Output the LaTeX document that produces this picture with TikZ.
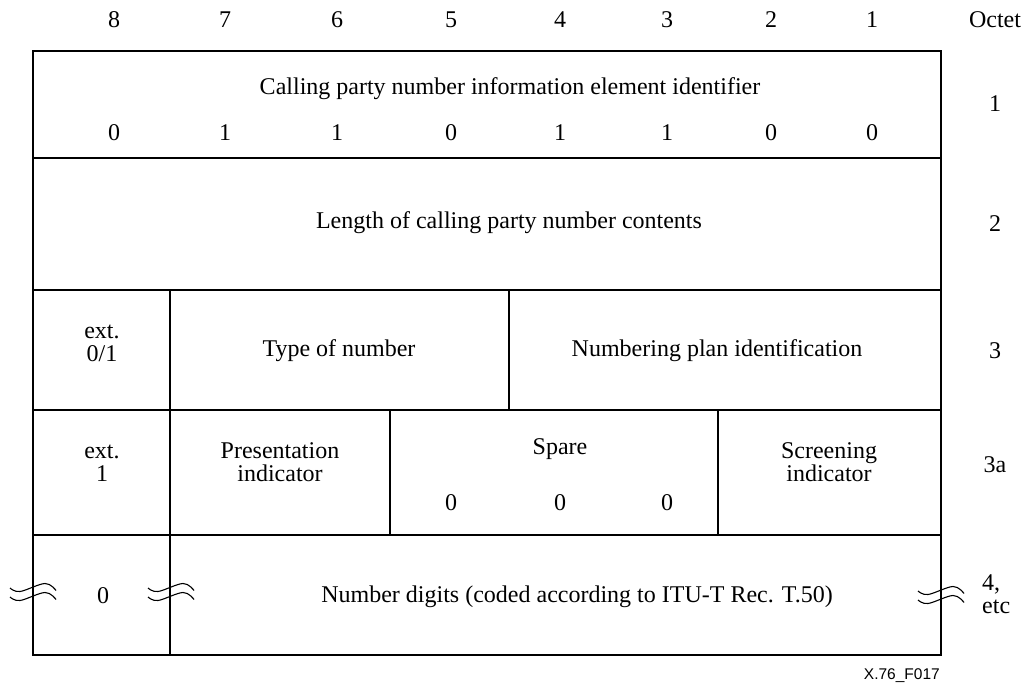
\documentclass[tikz,border=0pt]{standalone}
\usepackage{fontspec}
\setmainfont{Liberation Serif}
\setsansfont{Liberation Sans}
\begin{document}
\begin{tikzpicture}[x=1pt,y=-1pt,
  tbl/.style={line width=1.2pt},
  txt/.style={font=\fontsize{24}{27}\selectfont, inner sep=0pt, anchor=base},
  txtw/.style={txt, anchor=base west},
  foot/.style={font=\sffamily\fontsize{15.5}{17}\selectfont, inner sep=0pt, anchor=base east},
  breakmark/.pic={
    \draw[line width=1.1pt] plot[smooth, tension=0.6] coordinates {(-23,1) (-13,4.5) (12,-3.5) (23,3.5)};
    \draw[line width=1.1pt] plot[smooth, tension=0.6] coordinates {(-23,10) (-13,13.5) (12,5.5) (23,12.5)};
  }]
\useasboundingbox (0,0) rectangle (1024,684);
\fill[white] (0,0) rectangle (1024,684);
% table
\draw[tbl] (33,51) rectangle (941,655);
\draw[tbl] (33,158) -- (941,158);
\draw[tbl] (33,290) -- (941,290);
\draw[tbl] (33,410) -- (941,410);
\draw[tbl] (33,535) -- (941,535);
\draw[tbl] (170,290) -- (170,655);
\draw[tbl] (509,290) -- (509,410);
\draw[tbl] (390,410) -- (390,535);
\draw[tbl] (718,410) -- (718,535);
% header
\foreach \x/\b [count=\i] in {114/8,225/7,337/6,451/5,560/4,667/3,771/2,872/1}{
  \node[txt] (h\i) at (\x,28) {\b};
}
\node[txt] (octet) at (995,28) {Octet};
% row 1
\node[txt] (r1t) at (510,95) {Calling party number information element identifier};
\foreach \x/\b [count=\i] in {114/0,225/1,337/1,451/0,560/1,667/1,771/0,872/0}{
  \node[txt] (b\i) at (\x,141) {\b};
}
\node[txt] (o1) at (995,112) {1};
% row 2
\node[txt] (r2t) at (509,229) {Length of calling party number contents};
\node[txt] (o2) at (995,232) {2};
% row 3
\node[txt] (ext3a) at (102,338) {ext.};
\node[txt] (ext3b) at (102,361) {0/1};
\node[txt] (ton) at (339,356) {Type of number};
\node[txt] (npi) at (717,356) {Numbering plan identification};
\node[txt] (o3) at (995,358) {3};
% row 3a
\node[txt] (ext4a) at (102,458) {ext.};
\node[txt] (ext4b) at (102,481) {1};
\node[txt] (pia) at (280,458) {Presentation};
\node[txt] (pib) at (280,481) {indicator};
\node[txt] (spare) at (560,454) {Spare};
\node[txt] (s1) at (451,510) {0};
\node[txt] (s2) at (560,510) {0};
\node[txt] (s3) at (667,510) {0};
\node[txt] (sia) at (829,458) {Screening};
\node[txt] (sib) at (829,481) {indicator};
\node[txt] (o3a) at (995,472) {3a};
% row 4
\node[txt] (z4) at (103,603) {0};
\node[txt] (nd) at (577,602) {Number digits (coded according to ITU-T Rec. T.50)};
\node[txtw] (o4a) at (982,590) {4,};
\node[txtw] (o4b) at (982,613) {etc};
\pic at (33,587) {breakmark};
\pic at (171,587) {breakmark};
\pic at (941,590) {breakmark};
% footer
\node[foot] (fig) at (940,679) {X.76\_F017};
\end{tikzpicture}
\end{document}
